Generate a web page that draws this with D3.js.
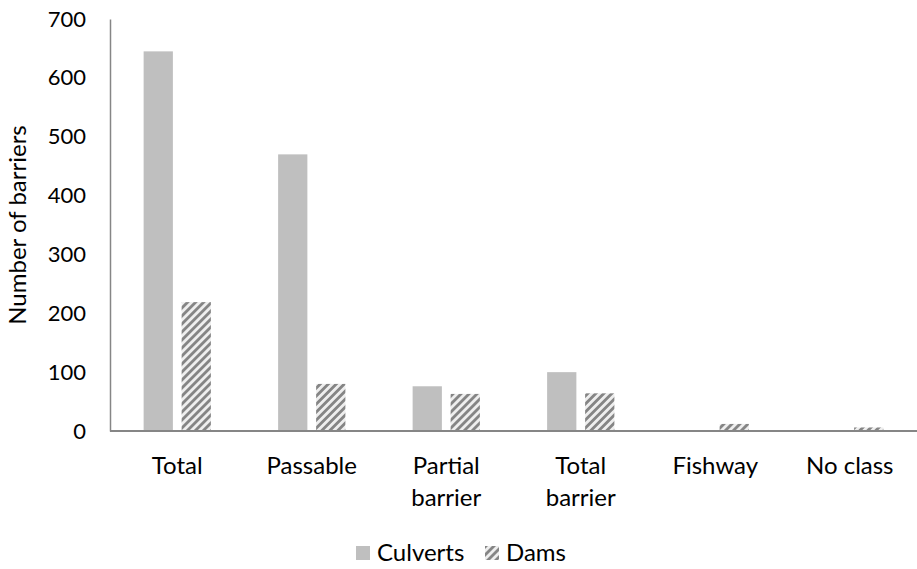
<!DOCTYPE html>
<html>
<head>
<meta charset="utf-8">
<script src="https://cdn.jsdelivr.net/npm/d3@7"></script>
<style>
  html, body { margin: 0; padding: 0; background: #fff; }
  svg text { font-family: Lato, "Open Sans", sans-serif; fill: #000; }
</style>
</head>
<body>
<svg id="chart" width="917" height="569"></svg>
<script>
// Barrier classes and counts per structure type
const categories = [["Total"], ["Passable"], ["Partial", "barrier"], ["Total", "barrier"], ["Fishway"], ["No class"]];
const seriesNames = ["Culverts", "Dams"];
const culverts = [645, 470, 76, 100, 0, 0];
const dams = [219, 80, 63, 64, 12, 6];
const yTicks = [0, 100, 200, 300, 400, 500, 600, 700];

const svg = d3.select("#chart");
const margin = { left: 110, right: 0, top: 19, bottom: 138 };
const W = 917, H = 569;
const labelSize = "24px";
const tickSize = "22px";

// Diagonal stripe fill for the dams series
const defs = svg.append("defs");
const blur = defs.append("filter").attr("id", "soft").attr("x", "0").attr("y", "0").attr("width", "1").attr("height", "1");
blur.append("feGaussianBlur").attr("stdDeviation", 0.6);
const P = 5.66;
const pat = defs.append("pattern")
  .attr("id", "stripes")
  .attr("patternUnits", "userSpaceOnUse")
  .attr("width", P).attr("height", P)
  .attr("patternTransform", "rotate(45)");
pat.append("rect").attr("width", P).attr("height", P).attr("fill", "#eeeeee");
pat.append("rect").attr("x", 0).attr("width", P / 2).attr("height", P).attr("fill", "#858585");

const x0 = d3.scaleBand()
  .domain(d3.range(categories.length))
  .range([margin.left, W - margin.right])
  .paddingInner(0.5).paddingOuter(0.25);
const x1 = d3.scaleBand()
  .domain(seriesNames)
  .range([0, x0.bandwidth()])
  .paddingInner(0.23);
const y = d3.scaleLinear().domain([0, 700]).range([H - margin.bottom, margin.top]);

// Bars
const groups = svg.append("g").selectAll("g")
  .data(categories.map((c, i) => ({ i, vals: [culverts[i], dams[i]] })))
  .join("g")
  .attr("transform", d => `translate(${x0(d.i)},0)`);

groups.selectAll("rect")
  .data(d => d.vals.map((v, k) => ({ name: seriesNames[k], v })))
  .join("rect")
  .attr("x", d => x1(d.name))
  .attr("width", x1.bandwidth())
  .attr("y", d => y(d.v))
  .attr("height", d => y(0) - y(d.v))
  .attr("fill", d => d.name === "Culverts" ? "#bfbfbf" : "url(#stripes)")
  .attr("filter", d => d.name === "Dams" ? "url(#soft)" : null);

// Y axis
const yAxis = svg.append("g")
  .attr("transform", `translate(${margin.left},0)`)
  .call(d3.axisLeft(y).tickValues(yTicks).tickSize(0).tickPadding(24));
yAxis.select(".domain").attr("stroke", "#868686").attr("stroke-width", 1.5);
yAxis.selectAll("text").style("font-size", tickSize).attr("fill", "#000");

// X axis baseline
svg.append("line")
  .attr("x1", margin.left).attr("x2", W)
  .attr("y1", y(0)).attr("y2", y(0))
  .attr("stroke", "#868686").attr("stroke-width", 2);

// Category labels
const xl = svg.append("g").selectAll("text")
  .data(categories.map((c, i) => ({ c, i })))
  .join("text")
  .attr("text-anchor", "middle")
  .attr("x", d => x0(d.i) + x0.bandwidth() / 2)
  .attr("y", y(0) + 43)
  .style("font-size", labelSize);
xl.selectAll("tspan")
  .data(d => d.c)
  .join("tspan")
  .attr("x", function () { return d3.select(this.parentNode).attr("x"); })
  .attr("dy", (d, k) => k === 0 ? 0 : 32)
  .text(d => d);

// Y axis title
svg.append("text")
  .attr("transform", `translate(26,${(y(0) + y(700)) / 2}) rotate(-90)`)
  .attr("text-anchor", "middle")
  .style("font-size", labelSize)
  .text("Number of barriers");

// Legend
const legend = svg.append("g").attr("transform", "translate(356,553)");
const legX = [0, 129];
seriesNames.forEach((name, k) => {
  const g = legend.append("g").attr("transform", `translate(${legX[k]},0)`);
  g.append("rect").attr("x", 0).attr("y", -7).attr("width", 14).attr("height", 14)
    .attr("fill", name === "Culverts" ? "#bfbfbf" : "url(#stripes)");
  g.append("text").attr("x", 21).attr("y", 8).style("font-size", labelSize).text(name);
});
</script>
</body>
</html>
